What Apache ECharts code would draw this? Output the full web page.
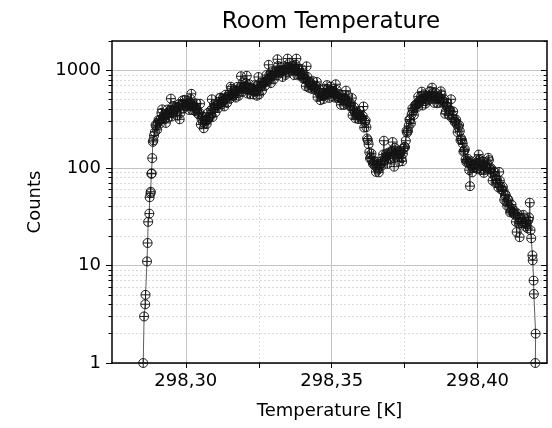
<!DOCTYPE html>
<html><head><meta charset="utf-8">
<script src="https://cdn.jsdelivr.net/npm/echarts@6/dist/echarts.min.js"></script>
<style>html,body{margin:0;padding:0;background:#fff}#c{width:552px;height:428px}</style>
</head><body><div id="c"></div>
<script>
// ---- data ----
const riseTemps = [298.2854, 298.2857, 298.2861, 298.2862, 298.2867, 298.2869, 298.2871, 298.2875, 298.2876, 298.2879, 298.2880, 298.2882, 298.2883, 298.2885, 298.2887, 298.2889, 298.2891];
const riseCounts = [1, 3, 4, 5, 11, 17, 28, 34, 50, 55, 57, 87, 88, 126, 185, 192, 215];

const bandTemps = [
 298.2894, 298.2899, 298.2904, 298.2909, 298.2914, 298.2919, 298.2924, 298.2929, 298.2934, 298.2939,
 298.2944, 298.2949, 298.2954, 298.2959, 298.2964, 298.2969, 298.2974, 298.2979, 298.2984, 298.2989,
 298.2994, 298.2999, 298.3004, 298.3009, 298.3014, 298.3019, 298.3024, 298.3029, 298.3034, 298.3039,
 298.3044, 298.3049, 298.3054, 298.3059, 298.3064, 298.3069, 298.3074, 298.3079, 298.3084, 298.3089,
 298.3094, 298.3099, 298.3104, 298.3109, 298.3114, 298.3119, 298.3124, 298.3129, 298.3134, 298.3139,
 298.3144, 298.3149, 298.3154, 298.3159, 298.3164, 298.3169, 298.3174, 298.3179, 298.3184, 298.3189,
 298.3194, 298.3199, 298.3204, 298.3209, 298.3214, 298.3219, 298.3224, 298.3229, 298.3234, 298.3239,
 298.3244, 298.3249, 298.3254, 298.3259, 298.3264, 298.3269, 298.3274, 298.3279, 298.3284, 298.3289,
 298.3294, 298.3299, 298.3304, 298.3309, 298.3314, 298.3319, 298.3324, 298.3329, 298.3334, 298.3339,
 298.3344, 298.3349, 298.3354, 298.3359, 298.3364, 298.3369, 298.3374, 298.3379, 298.3384, 298.3389,
 298.3394, 298.3399, 298.3404, 298.3409, 298.3414, 298.3419, 298.3424, 298.3429, 298.3434, 298.3439,
 298.3444, 298.3449, 298.3454, 298.3459, 298.3464, 298.3469, 298.3474, 298.3479, 298.3484, 298.3489,
 298.3494, 298.3499, 298.3504, 298.3509, 298.3514, 298.3519, 298.3524, 298.3529, 298.3534, 298.3539,
 298.3544, 298.3549, 298.3554, 298.3559, 298.3564, 298.3569, 298.3574, 298.3579, 298.3584, 298.3589,
 298.3594, 298.3599, 298.3604, 298.3609, 298.3614, 298.3619, 298.3624, 298.3629, 298.3634, 298.3639,
 298.3644, 298.3649, 298.3654, 298.3659, 298.3664, 298.3669, 298.3674, 298.3679, 298.3684, 298.3689,
 298.3694, 298.3699, 298.3704, 298.3709, 298.3714, 298.3719, 298.3724, 298.3729, 298.3734, 298.3739,
 298.3744, 298.3749, 298.3754, 298.3759, 298.3764, 298.3769, 298.3774, 298.3779, 298.3784, 298.3789,
 298.3794, 298.3799, 298.3804, 298.3809, 298.3814, 298.3819, 298.3824, 298.3829, 298.3834, 298.3839,
 298.3844, 298.3849, 298.3854, 298.3859, 298.3864, 298.3869, 298.3874, 298.3879, 298.3884, 298.3889,
 298.3894, 298.3899, 298.3904, 298.3909, 298.3914, 298.3919, 298.3924, 298.3929, 298.3934, 298.3939,
 298.3944, 298.3949, 298.3954, 298.3959, 298.3964, 298.3969, 298.3974, 298.3979, 298.3984, 298.3989,
 298.3994, 298.3999, 298.4004, 298.4009, 298.4014, 298.4019, 298.4024, 298.4029, 298.4034, 298.4039,
 298.4044, 298.4049, 298.4054, 298.4059, 298.4064, 298.4069, 298.4074, 298.4079, 298.4084, 298.4089,
 298.4094, 298.4099, 298.4104, 298.4109, 298.4114, 298.4119, 298.4124, 298.4129, 298.4134, 298.4139,
 298.4144, 298.4149, 298.4154, 298.4159, 298.4164, 298.4169, 298.4174, 298.4179, 298.4184
];
const bandCounts = [
 233, 268, 290, 305, 315, 398, 335, 320, 352, 368,
 380, 513, 362, 395, 410, 378, 420, 315, 432, 492,
 448, 430, 460, 445, 470, 575, 438, 425, 410, 395,
 355, 455, 318, 295, 285, 305, 312, 332, 350, 505,
 398, 415, 432, 440, 455, 525, 470, 488, 505, 520,
 535, 550, 680, 575, 560, 605, 620, 610, 640, 870,
 655, 672, 690, 880, 665, 650, 640, 625, 610, 628,
 550, 855, 665, 690, 720, 745, 770, 800, 1140, 840,
 880, 905, 930, 955, 1300, 975, 990, 1005, 985, 1015,
 1025, 1320, 1040, 1060, 1045, 1030, 1050, 1320, 1020, 995,
 930, 880, 845, 810, 1100, 770, 740, 715, 690, 668,
 648, 760, 610, 575, 552, 545, 560, 580, 705, 600,
 615, 625, 600, 580, 720, 545, 535, 520, 512, 505,
 498, 620, 488, 470, 430, 520, 395, 372, 360, 348,
 342, 335, 322, 426, 295, 262, 192, 145, 128, 118,
 112, 105, 108, 96, 102, 110, 118, 190, 128, 132,
 125, 138, 145, 184, 103, 142, 148, 132, 138, 126,
 140, 165, 190, 230, 270, 310, 355, 385, 410, 440,
 462, 480, 498, 605, 510, 522, 515, 530, 540, 535,
 665, 545, 538, 528, 520, 512, 610, 495, 478, 359,
 432, 408, 385, 505, 345, 320, 298, 280, 262, 238,
 200, 178, 150, 122, 118, 112, 65, 105, 100, 108,
 112, 98, 137, 115, 104, 108, 95, 102, 112, 120,
 96, 88, 92, 82, 76, 70, 91, 64, 60, 58,
 52, 45, 48, 40, 36, 38, 34, 33, 22, 31,
 19.5, 30, 28, 31, 25, 27, 29, 44, 19
];

// second, interleaved set of readings inside the dense band
const bandTemps2 = [
 298.28965, 298.29015, 298.29065, 298.29115, 298.29165, 298.29215, 298.29265, 298.29315, 298.29365, 298.29415,
 298.29465, 298.29515, 298.29565, 298.29615, 298.29665, 298.29715, 298.29765, 298.29815, 298.29865, 298.29915,
 298.29965, 298.30015, 298.30065, 298.30115, 298.30165, 298.30215, 298.30265, 298.30315, 298.30365, 298.30415,
 298.30465, 298.30515, 298.30565, 298.30615, 298.30665, 298.30715, 298.30765, 298.30815, 298.30865, 298.30915,
 298.30965, 298.31015, 298.31065, 298.31115, 298.31165, 298.31215, 298.31265, 298.31315, 298.31365, 298.31415,
 298.31465, 298.31515, 298.31565, 298.31615, 298.31665, 298.31715, 298.31765, 298.31815, 298.31865, 298.31915,
 298.31965, 298.32015, 298.32065, 298.32115, 298.32165, 298.32215, 298.32265, 298.32315, 298.32365, 298.32415,
 298.32465, 298.32515, 298.32565, 298.32615, 298.32665, 298.32715, 298.32765, 298.32815, 298.32865, 298.32915,
 298.32965, 298.33015, 298.33065, 298.33115, 298.33165, 298.33215, 298.33265, 298.33315, 298.33365, 298.33415,
 298.33465, 298.33515, 298.33565, 298.33615, 298.33665, 298.33715, 298.33765, 298.33815, 298.33865, 298.33915,
 298.33965, 298.34015, 298.34065, 298.34115, 298.34165, 298.34215, 298.34265, 298.34315, 298.34365, 298.34415,
 298.34465, 298.34515, 298.34565, 298.34615, 298.34665, 298.34715, 298.34765, 298.34815, 298.34865, 298.34915,
 298.34965, 298.35015, 298.35065, 298.35115, 298.35165, 298.35215, 298.35265, 298.35315, 298.35365, 298.35415,
 298.35465, 298.35515, 298.35565, 298.35615, 298.35665, 298.35715, 298.35765, 298.35815, 298.35865, 298.35915,
 298.35965, 298.36015, 298.36065, 298.36115, 298.36165, 298.36215, 298.36265, 298.36315, 298.36365, 298.36415,
 298.36465, 298.36515, 298.36565, 298.36615, 298.36665, 298.36715, 298.36765, 298.36815, 298.36865, 298.36915,
 298.36965, 298.37015, 298.37065, 298.37115, 298.37165, 298.37215, 298.37265, 298.37315, 298.37365, 298.37415,
 298.37465, 298.37515, 298.37565, 298.37615, 298.37665, 298.37715, 298.37765, 298.37815, 298.37865, 298.37915,
 298.37965, 298.38015, 298.38065, 298.38115, 298.38165, 298.38215, 298.38265, 298.38315, 298.38365, 298.38415,
 298.38465, 298.38515, 298.38565, 298.38615, 298.38665, 298.38715, 298.38765, 298.38815, 298.38865, 298.38915,
 298.38965, 298.39015, 298.39065, 298.39115, 298.39165, 298.39215, 298.39265, 298.39315, 298.39365, 298.39415,
 298.39465, 298.39515, 298.39565, 298.39615, 298.39665, 298.39715, 298.39765, 298.39815, 298.39865, 298.39915,
 298.39965, 298.40015, 298.40065, 298.40115, 298.40165, 298.40215, 298.40265, 298.40315, 298.40365, 298.40415,
 298.40465, 298.40515, 298.40565, 298.40615, 298.40665, 298.40715, 298.40765, 298.40815, 298.40865, 298.40915,
 298.40965, 298.41015, 298.41065, 298.41115, 298.41165, 298.41215, 298.41265, 298.41315, 298.41365, 298.41415,
 298.41465, 298.41515, 298.41565, 298.41615, 298.41665, 298.41715, 298.41765, 298.41815
];
const bandCounts2 = [
 275, 246, 310, 285, 367, 319, 354, 289, 396, 329,
 390, 337, 431, 386, 425, 343, 451, 366, 453, 408,
 500, 427, 488, 393, 508, 393, 448, 384, 458, 360,
 369, 279, 337, 255, 307, 283, 367, 327, 391, 332,
 447, 372, 453, 411, 522, 447, 517, 427, 563, 464,
 564, 512, 648, 544, 629, 526, 677, 550, 671, 600,
 756, 654, 740, 578, 723, 568, 657, 568, 706, 609,
 700, 568, 745, 620, 761, 696, 895, 778, 896, 740,
 981, 807, 980, 883, 1106, 943, 1077, 856, 1100, 898,
 1069, 953, 1197, 1010, 1120, 894, 1146, 904, 1047, 885,
 1032, 828, 893, 688, 858, 664, 756, 646, 774, 632,
 690, 533, 651, 495, 570, 508, 650, 562, 643, 522,
 682, 539, 614, 525, 630, 518, 569, 444, 559, 441,
 515, 451, 546, 432, 455, 347, 421, 322, 368, 317,
 385, 315, 340, 259, 306, 200, 175, 125, 140, 110,
 117, 91, 116, 90, 110, 105, 137, 120, 140, 110,
 144, 124, 150, 130, 161, 139, 151, 116, 145, 117,
 158, 163, 239, 240, 313, 286, 407, 349, 442, 415,
 537, 469, 541, 436, 568, 456, 543, 492, 612, 516,
 585, 465, 586, 461, 537, 466, 569, 467, 503, 381,
 462, 349, 390, 327, 379, 297, 312, 233, 275, 193,
 192, 147, 155, 115, 124, 95, 117, 90, 108, 101,
 120, 100, 121, 95, 117, 89, 102, 98, 127, 99,
 99, 74, 92, 70, 76, 63, 74, 60, 64, 47,
 53, 41, 46, 35, 42, 35, 36, 28, 34, 27,
 31, 27, 33, 27, 28, 24, 31, 23
];

const tailTemps = [298.4188, 298.4189, 298.4192, 298.4193, 298.4199, 298.4198];
const tailCounts = [12.7, 11.3, 7, 5.1, 2, 1];

const xMajorTicks = [298.30, 298.35, 298.40];
const xMinorTicks = [298.325, 298.375];
const yMajorTicks = [1, 10, 100, 1000];
const yMinorTicks = [2, 3, 4, 5, 6, 7, 8, 9, 20, 30, 40, 50, 60, 70, 80, 90, 200, 300, 400, 500, 600, 700, 800, 900, 2000];

const chartTitle = 'Room Temperature';
const xTitle = 'Temperature [K]';
const yTitle = 'Counts';
const xRange = [298.2747, 298.4238];
const yRange = [1, 2000];

// ---- build ----
const bandPoints = bandTemps.map((t, i) => [t, bandCounts[i]])
  .concat(bandTemps2.map((t, i) => [t, bandCounts2[i]]))
  .sort((a, b) => a[0] - b[0]);
const points = riseTemps.map((t, i) => [t, riseCounts[i]])
  .concat(bandPoints, tailTemps.map((t, i) => [t, tailCounts[i]]));

const FONT = 'DejaVu Sans';
const AX = '#000';
const MAJ = '#c4c4c4';
const MIN = '#dadada';

function xAxisDef(opts) {
  return Object.assign({
    type: 'value', min: xRange[0], max: xRange[1], gridIndex: 0,
    axisLine: { show: false, onZero: false },
    axisTick: { show: false },
    axisLabel: { show: false },
    splitLine: { show: false }
  }, opts);
}
function yAxisDef(opts) {
  return Object.assign({
    type: 'log', logBase: 10, min: yRange[0], max: yRange[1], gridIndex: 0,
    axisLine: { show: false, onZero: false },
    axisTick: { show: false },
    axisLabel: { show: false },
    splitLine: { show: false }
  }, opts);
}

const chart = echarts.init(document.getElementById('c'), null, { renderer: 'canvas' });
chart.setOption({
  animation: false,
  backgroundColor: '#fff',
  grid: { left: 112, right: 5, top: 41, bottom: 65 },
  graphic: [{
    type: 'text', x: 331, y: 22,
    style: { text: chartTitle, font: '23px "' + FONT + '"', fill: '#000', textAlign: 'center', textVerticalAlign: 'middle' }
  }],
  xAxis: [
    xAxisDef({
      position: 'bottom',
      axisLine: { show: true, onZero: false, lineStyle: { color: AX, width: 1.5 } },
      axisTick: { show: true, customValues: xMajorTicks.concat(xMinorTicks), length: 5, lineStyle: { color: AX, width: 1 } },
      axisLabel: { show: true, customValues: xMajorTicks, margin: 9, color: '#000', fontFamily: FONT, fontSize: 18,
        formatter: v => v.toFixed(2).replace('.', ',') },
      name: xTitle, nameLocation: 'middle', nameGap: 39,
      nameTextStyle: { fontFamily: FONT, fontSize: 18, color: '#000' }
    }),
    xAxisDef({
      position: 'bottom',
      axisTick: { show: false, customValues: xMajorTicks },
      splitLine: { show: true, lineStyle: { color: MAJ, width: 1 } }
    }),
    xAxisDef({
      position: 'bottom',
      axisTick: { show: false, customValues: xMinorTicks },
      splitLine: { show: true, lineStyle: { color: MIN, width: 1, type: [2, 2] } }
    }),
    xAxisDef({
      position: 'top',
      axisLine: { show: true, onZero: false, lineStyle: { color: AX, width: 1.5 } },
      axisTick: { show: true, inside: true, customValues: xMajorTicks.concat(xMinorTicks), length: 6, lineStyle: { color: AX, width: 1 } }
    })
  ],
  yAxis: [
    yAxisDef({
      position: 'left',
      axisLine: { show: true, onZero: false, lineStyle: { color: AX, width: 1.5 } },
      axisTick: { show: true, customValues: yMajorTicks, length: 6, lineStyle: { color: AX, width: 1 } },
      axisLabel: { show: true, customValues: yMajorTicks, margin: 11, color: '#000', fontFamily: FONT, fontSize: 18,
        formatter: v => String(Math.round(v)) },
      splitLine: { show: true, lineStyle: { color: MAJ, width: 1 } },
      name: yTitle, nameLocation: 'middle', nameGap: 66,
      nameTextStyle: { fontFamily: FONT, fontSize: 18, color: '#000' }
    }),
    yAxisDef({
      position: 'left',
      axisTick: { show: true, customValues: yMinorTicks, length: 3.5, lineStyle: { color: AX, width: 1 } },
      splitLine: { show: true, lineStyle: { color: MIN, width: 1, type: [2, 2] } }
    }),
    yAxisDef({
      position: 'right',
      axisLine: { show: true, onZero: false, lineStyle: { color: AX, width: 1.5 } },
      axisTick: { show: true, inside: true, customValues: yMajorTicks, length: 6, lineStyle: { color: AX, width: 1 } }
    }),
    yAxisDef({
      position: 'right',
      axisTick: { show: true, inside: true, customValues: yMinorTicks, length: 3.5, lineStyle: { color: AX, width: 1 } }
    })
  ],
  series: [{
    type: 'line',
    xAxisIndex: 0, yAxisIndex: 0,
    data: points,
    symbol: 'path://M10,0A10,10,0,1,1,-10,0A10,10,0,1,1,10,0ZM-10,0L10,0M0,-10L0,10',
    symbolSize: 9,
    showSymbol: true,
    showAllSymbol: true,
    clip: false,
    lineStyle: { color: '#333', width: 0.8 },
    itemStyle: { color: 'rgba(0,0,0,0)', borderColor: '#141414', borderWidth: 0.95 },
    emphasis: { disabled: true }
  }]
});
</script>
</body></html>
